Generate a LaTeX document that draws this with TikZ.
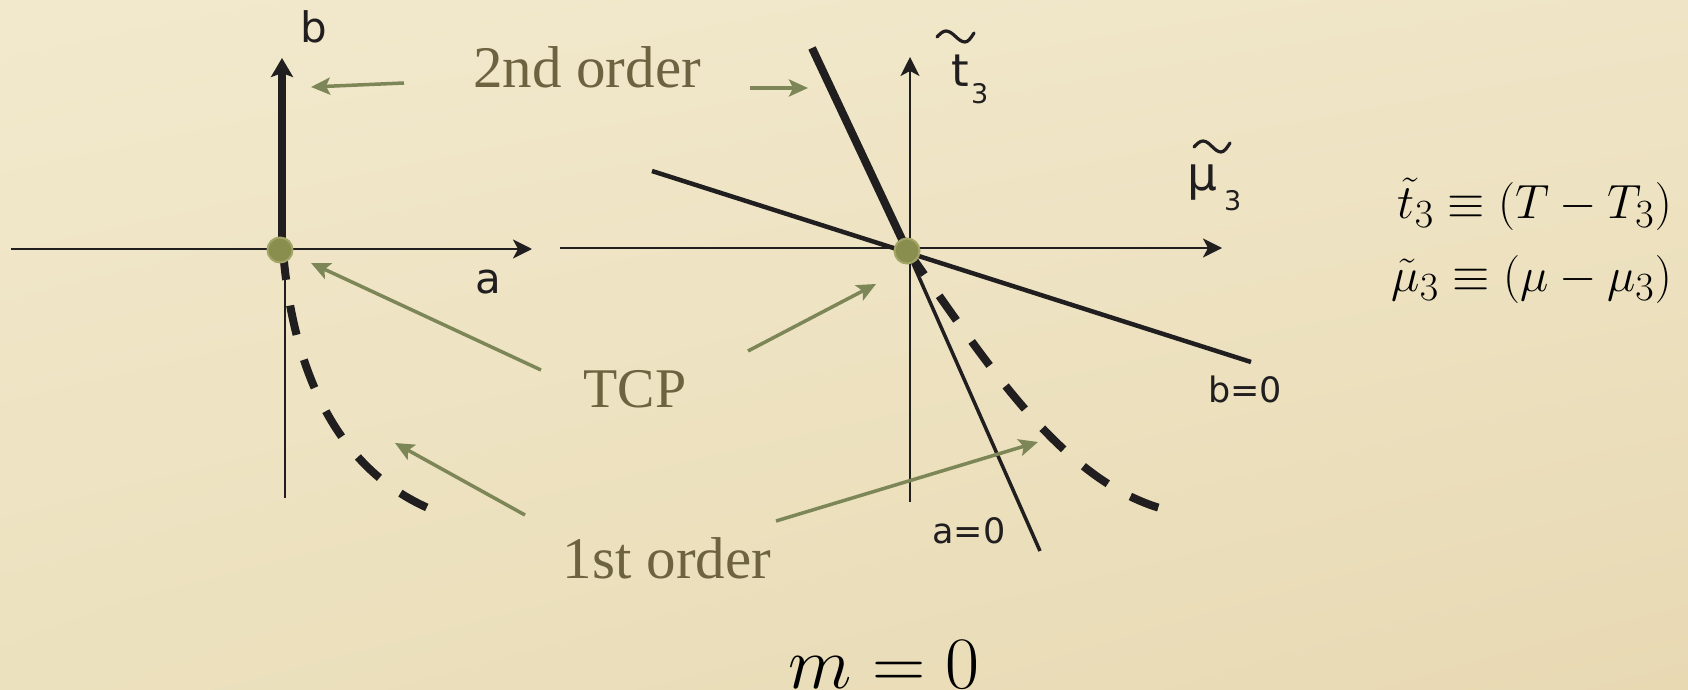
\documentclass[tikz,border=0pt]{standalone}
\usepackage{graphicx}
\usepackage{fontspec}
\newfontfamily\serifl{Liberation Serif}
\newfontfamily\sansl{DejaVu Sans}
\usetikzlibrary{arrows.meta,shadings}
\definecolor{textolive}{RGB}{110,99,64}
\definecolor{arrowgreen}{RGB}{124,134,86}
\definecolor{dotfill}{RGB}{137,142,78}
\definecolor{dotrim}{RGB}{162,165,102}
\definecolor{ink}{RGB}{32,30,31}
\definecolor{bgUL}{RGB}{242,233,205}
\definecolor{bgUR}{RGB}{239,229,198}
\definecolor{bgLL}{RGB}{236,225,190}
\definecolor{bgLR}{RGB}{232,217,179}
\newcommand{\bigmath}[2]{\scalebox{#1}{\fontsize{24.88}{30}\selectfont$#2$}}
\tikzset{
  axisline/.style={draw=ink, line width=2.5pt, -{Stealth[length=19pt,width=19pt,inset=5pt]}},
  plainline/.style={draw=ink, line width=2.5pt},
  heavyline/.style={draw=ink, line width=8pt},
  medline/.style={draw=ink, line width=4.5pt},
  thinline/.style={draw=ink, line width=3.5pt},
  dashcurve/.style={draw=ink, line width=8pt, dash pattern=on 30pt off 26pt},
  pointer/.style={draw=arrowgreen, line width=3.5pt, -{Stealth[length=19pt,width=17pt,inset=4pt]}},
  olivetext/.style={text=textolive, font=\serifl\fontsize{59}{64}\selectfont, inner sep=0pt},
  sanslab/.style={text=ink, font=\sansl\fontsize{42}{46}\selectfont, inner sep=0pt},
  smallsans/.style={text=ink, font=\sansl\fontsize{35}{40}\selectfont, inner sep=0pt},
  subsans/.style={text=ink, font=\sansl\fontsize{27}{31}\selectfont, inner sep=0pt},
  tildemark/.style={draw=ink, line width=3.2pt, line cap=round},
  tcpdot/.style={circle, fill=dotfill, draw=dotrim, line width=2pt, minimum size=25pt, inner sep=0pt},
  mathlab/.style={text=black, inner sep=0pt}
}
\begin{document}
\begin{tikzpicture}[x=1pt,y=-1pt]
\useasboundingbox (0,0) rectangle (1688,690);
\shade[upper left=bgUL, upper right=bgUR, lower left=bgLL, lower right=bgLR] (0,0) rectangle (1688,690);

% ---------- left diagram ----------
\coordinate (LW) at (11,249);
\coordinate (LE) at (532,249);
\coordinate (LO) at (282,249);
\coordinate (LvTop) at (285,249);
\coordinate (LvBot) at (285,498);
\coordinate (LbTip) at (282,58);
\coordinate (LdEnd) at (428,508);
\draw[axisline] (LW) -- (LE);
\draw[plainline] (LvTop) -- (LvBot);
\draw[heavyline, -{Stealth[length=19pt,width=22pt,inset=4pt]}] (LO) -- (LbTip);
\draw[dashcurve] (283,250) .. controls (290,340) and (320,460) .. (LdEnd);
\node[tcpdot] (LT) at (280,250) {};
\node[sanslab, anchor=base] (lb) at (314,43) {b};
\node[sanslab, anchor=base] (la) at (488,293) {a};

% ---------- right diagram ----------
\coordinate (RW) at (560,248);
\coordinate (RE) at (1222,248);
\coordinate (RvBot) at (910,502);
\coordinate (RvTop) at (910,57);
\coordinate (RO) at (907,250);
\coordinate (RsTop) at (812,48);
\coordinate (RbL) at (652,171);
\coordinate (RbR) at (1251,362);
\coordinate (RaEnd) at (1040,551);
\coordinate (RdEnd) at (1163,509);
\draw[axisline] (RW) -- (RE);
\draw[axisline] (RvBot) -- (RvTop);
\draw[heavyline] (RsTop) -- (RO);
\draw[medline] (RbL) -- (RbR);
\draw[thinline] (RO) -- (RaEnd);
\draw[dashcurve] (RO) .. controls (985,360) and (1060,480) .. (RdEnd);
\node[tcpdot] (RT) at (907,251) {};

% axis labels, right
\draw[tildemark] (937,37) sin (946,31) cos (955.5,36.5) sin (965,42) cos (974,33);
\node[sanslab, font=\sansl\fontsize{45}{50}\selectfont, anchor=base west] (tt) at (951,87) {t};
\node[subsans, anchor=base west] (t3) at (971,103) {3};
\draw[tildemark] (1194,147) sin (1203,141) cos (1212,146.5) sin (1221,152) cos (1230,143);
\node[sanslab, font=\sansl\fontsize{47}{52}\selectfont, anchor=base west] (mu) at (1187,190) {μ};
\node[subsans, anchor=base west] (mu3) at (1224,210) {3};
\node[smallsans, anchor=base] (b0) at (1245,402) {b=0};
\node[smallsans, anchor=base] (a0) at (969,543) {a=0};

% ---------- olive labels and pointers ----------
\node[olivetext, anchor=base] (second) at (587,88) {2nd order};
\node[olivetext, font=\serifl\fontsize{56}{60}\selectfont, anchor=base] (tcp) at (635,407) {TCP};
\node[olivetext, anchor=base] (first) at (667,578) {1st order};

\coordinate (p1s) at (404,83);  \coordinate (p1e) at (311,87);
\coordinate (p2s) at (750,88);  \coordinate (p2e) at (808,88);
\coordinate (p3s) at (541,370); \coordinate (p3e) at (311,263);
\coordinate (p4s) at (748,351); \coordinate (p4e) at (876,284);
\coordinate (p5s) at (525,515); \coordinate (p5e) at (395,443);
\coordinate (p6s) at (776,521); \coordinate (p6e) at (1038,442);
\draw[pointer] (p1s) -- (p1e);
\draw[pointer] (p2s) -- (p2e);
\draw[pointer] (p3s) -- (p3e);
\draw[pointer] (p4s) -- (p4e);
\draw[pointer] (p5s) -- (p5e);
\draw[pointer] (p6s) -- (p6e);

% ---------- definitions ----------
\node[mathlab, anchor=base east] (def1) at (1672,218) {\bigmath{1.93}{\tilde t_3\equiv(T-T_3)}};
\node[mathlab, anchor=base east] (def2) at (1672,291) {\bigmath{1.93}{\tilde\mu_3\equiv(\mu-\mu_3)}};
\node[mathlab, anchor=base] (mzero) at (884,688) {\bigmath{2.97}{m=0}};
\end{tikzpicture}
\end{document}
